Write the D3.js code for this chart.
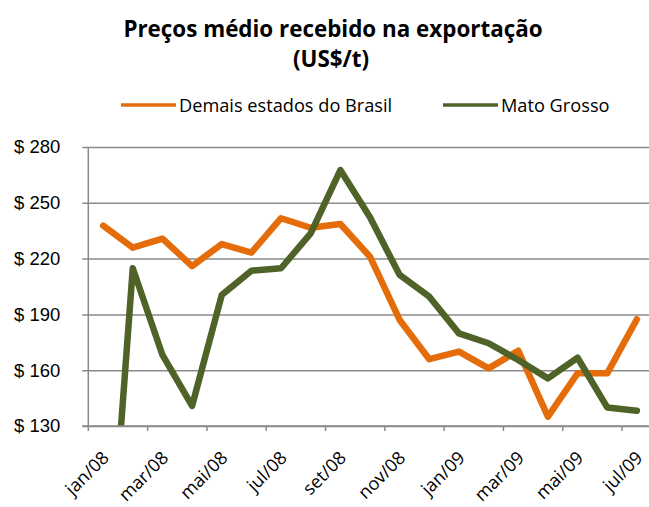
<!DOCTYPE html>
<html>
<head>
<meta charset="utf-8">
<script src="https://cdn.jsdelivr.net/npm/d3@7"></script>
<style>
  body { margin: 0; background: #fff; }
  svg { font-family: "Open Sans", Lato, sans-serif; }
</style>
</head>
<body>
<svg id="chart"></svg>
<script>
// Monthly categories, jan/08 .. jul/09
const months = ["jan/08", "fev/08", "mar/08", "abr/08", "mai/08", "jun/08", "jul/08", "ago/08",
  "set/08", "out/08", "nov/08", "dez/08", "jan/09", "fev/09", "mar/09", "abr/09",
  "mai/09", "jun/09", "jul/09"];

// US$/t
const demaisEstados = [237.7, 225.9, 230.7, 216, 227.8, 223.2, 241.7, 236.6, 238.6, 221,
  187, 165.9, 170, 161, 170.5, 135, 158.3, 158.3, 187.4];
const matoGrosso = [0, 214.8, 168.2, 140.8, 200.4, 213.5, 214.8, 233.6, 267.6, 242.2,
  211.2, 199.5, 179.8, 174.5, 165.5, 155.6, 166.7, 140, 138.2];

const yTicks = [130, 160, 190, 220, 250, 280];

const seriesNames = ["Demais estados do Brasil", "Mato Grosso"];
const seriesColors = ["#E46C0A", "#4F6228"];

const width = 649;
const height = 507;
const margin = { top: 147, left: 88.3, bottom: 81 };
const plotW = 563.4; // runs a little past the right edge, as in the picture
const plotH = height - margin.top - margin.bottom;

const svg = d3.select("#chart")
  .attr("width", width)
  .attr("height", height);

// Title
svg.append("text")
  .attr("x", 333).attr("y", 37)
  .attr("text-anchor", "middle")
  .attr("font-size", 22.4).attr("font-weight", "bold")
  .text("Preços médio recebido na exportação");
svg.append("text")
  .attr("x", 331).attr("y", 67)
  .attr("text-anchor", "middle")
  .attr("font-size", 22.4).attr("font-weight", "bold")
  .text("(US$/t)");

// Legend
const legendX = [121, 443];
const legend = svg.selectAll(".legend")
  .data(seriesNames)
  .enter()
  .append("g")
  .attr("class", "legend")
  .attr("transform", (d, i) => `translate(${legendX[i]},105)`);
legend.append("line")
  .attr("x1", 0).attr("x2", 55)
  .attr("stroke", (d, i) => seriesColors[i])
  .attr("stroke-width", 3.5);
legend.append("text")
  .attr("x", 58).attr("y", 6.5)
  .attr("font-size", 18.2)
  .text(d => d);

const g = svg.append("g")
  .attr("transform", `translate(${margin.left},${margin.top})`);

const x = d3.scaleBand()
  .domain(months)
  .range([0, plotW]);

const y = d3.scaleLinear()
  .domain([130, 280])
  .range([plotH, 0]);

// Gridlines + y axis
const yAxis = g.append("g")
  .call(d3.axisLeft(y)
    .tickValues(yTicks)
    .tickSize(-plotW - 6)
    .tickFormat(d => "$ " + d));
yAxis.select(".domain").remove();
yAxis.selectAll(".tick line")
  .attr("x1", -6)
  .attr("stroke", "#8a8a8a")
  .attr("stroke-width", 1.5);
yAxis.selectAll(".tick text")
  .attr("x", -28)
  .attr("font-size", 18.5)
  .attr("fill", "#000");

// Left axis line
g.append("line")
  .attr("x1", 0).attr("x2", 0)
  .attr("y1", 0).attr("y2", plotH)
  .attr("stroke", "#8a8a8a")
  .attr("stroke-width", 1.5);

// Bottom axis: ticks every second category boundary
const boundaries = months.filter((m, i) => i % 2 === 0).map(m => x(m));
g.selectAll(".xtick")
  .data(boundaries)
  .enter()
  .append("line")
  .attr("x1", d => d).attr("x2", d => d)
  .attr("y1", plotH).attr("y2", plotH + 5)
  .attr("stroke", "#8a8a8a")
  .attr("stroke-width", 1.5);

// Labels on every other month, rotated
g.selectAll(".xlabel")
  .data(months.filter((m, i) => i % 2 === 0))
  .enter()
  .append("text")
  .attr("text-anchor", "end")
  .attr("font-size", 18)
  .attr("transform", d => `translate(${x(d) + x.bandwidth() / 2 + 7},${plotH + 33}) rotate(-45)`)
  .text(d => d);

// Clip lines to the plot area
svg.append("clipPath")
  .attr("id", "plotClip")
  .append("rect")
  .attr("x", 0).attr("y", -10)
  .attr("width", plotW).attr("height", plotH + 10);

const line = d3.line()
  .x((d, i) => x(months[i]) + x.bandwidth() / 2)
  .y(d => y(d));

const lines = g.append("g").attr("clip-path", "url(#plotClip)");
[demaisEstados, matoGrosso].forEach((series, i) => {
  lines.append("path")
    .datum(series)
    .attr("fill", "none")
    .attr("stroke", seriesColors[i])
    .attr("stroke-width", 6.5)
    .attr("stroke-linejoin", "round")
    .attr("stroke-linecap", "round")
    .attr("d", line);
});

// Redraw bottom axis line above the lines
g.append("line")
  .attr("x1", -6).attr("x2", plotW)
  .attr("y1", plotH).attr("y2", plotH)
  .attr("stroke", "#8a8a8a")
  .attr("stroke-width", 1.5);
</script>
</body>
</html>
